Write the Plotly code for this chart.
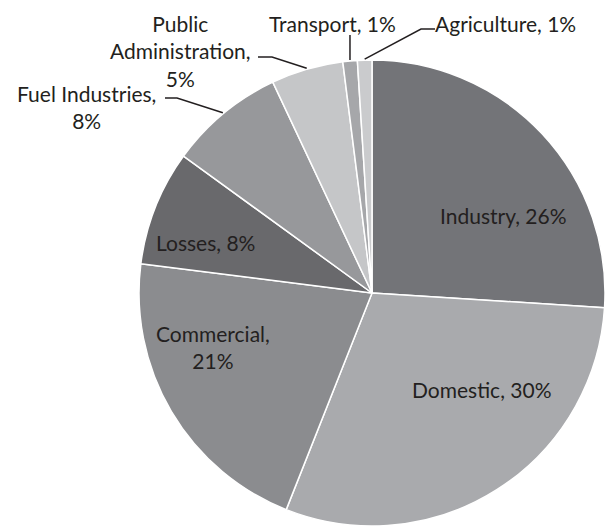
import math
import plotly.graph_objects as go

# ---- data ----
categories = ["Industry", "Domestic", "Commercial", "Losses", "Fuel Industries",
              "Public Administration", "Transport", "Agriculture"]
shares = [26, 30, 21, 8, 8, 5, 1, 1]
slice_colors = ["#737478", "#a9aaad", "#8b8c8f", "#69696c", "#97989b",
                "#c5c6c8", "#a6a7aa", "#cacbcd"]

W, H = 609, 526
CX, CY, R = 372, 293, 233  # pie geometry in pixels

def px(x):
    return x / W

def py(y):
    return 1 - y / H

fig = go.Figure(go.Pie(
    labels=categories,
    values=shares,
    sort=False,
    direction="clockwise",
    rotation=0,
    marker=dict(colors=slice_colors, line=dict(color="white", width=1.5)),
    textinfo="none",
    hoverinfo="label+percent",
    showlegend=False,
    domain=dict(x=[px(CX - R), px(CX + R)], y=[0, 2 * R / H]),
))

FONT = dict(family="Lato, 'Open Sans', sans-serif", size=21, color="#231f20")
total = sum(shares)

# label placement (pixel centres) and line-break templates
label_layout = {
    "Industry": ((503, 216), "{n}, {p}"),
    "Domestic": ((481, 389), "{n}, {p}"),
    "Commercial": ((213, 347), "{n},<br>{p}"),
    "Losses": ((206, 242), "{n}, {p}"),
    "Fuel Industries": ((86, 107), "{n},<br>{p}"),
    "Public Administration": ((180, 51), "Public<br>Administration,<br>{p}"),
    "Transport": ((332, 24), "{n}, {p}"),
    "Agriculture": ((505, 24), "{n}, {p}"),
}

annotations = []
for i, name in enumerate(categories):
    (x, y), tpl = label_layout[name]
    pct = f"{round(100 * shares[i] / total)}%"
    annotations.append(dict(
        x=px(x), y=py(y), xref="paper", yref="paper",
        text=tpl.format(n=name, p=pct), showarrow=False,
        xanchor="center", yanchor="middle", font=FONT,
    ))

# leader lines: from label side, through an elbow, to the slice mid-point on the rim
def rim_point(i):
    before = sum(shares[:i])
    mid = (before + shares[i] / 2) / total
    ang = 2 * math.pi * mid
    return CX + (R + 1) * math.sin(ang), CY - (R + 1) * math.cos(ang)

leaders = {
    "Fuel Industries": [(165, 98), (177, 98)],
    "Public Administration": [(258, 57), (272, 57)],
    "Transport": [None],
    "Agriculture": [(435, 29), (421, 29)],
}

shapes = []
for name, pts in leaders.items():
    i = categories.index(name)
    ex, ey = rim_point(i)
    if pts[0] is None:
        pts = [(ex, 35)]
    pts = pts + [(ex, ey)]
    path = "M " + " L ".join(f"{px(a):.5f},{py(b):.5f}" for a, b in pts)
    shapes.append(dict(type="path", path=path, xref="paper", yref="paper",
                       line=dict(color="#231f20", width=1.5)))

fig.update_layout(
    width=W, height=H,
    margin=dict(l=0, r=0, t=0, b=0),
    paper_bgcolor="white",
    plot_bgcolor="white",
    annotations=annotations,
    shapes=shapes,
)

fig.write_html("out.html",
               config={"displayModeBar": False},
               post_script="document.body.style.margin='0';document.body.style.overflow='hidden';")
